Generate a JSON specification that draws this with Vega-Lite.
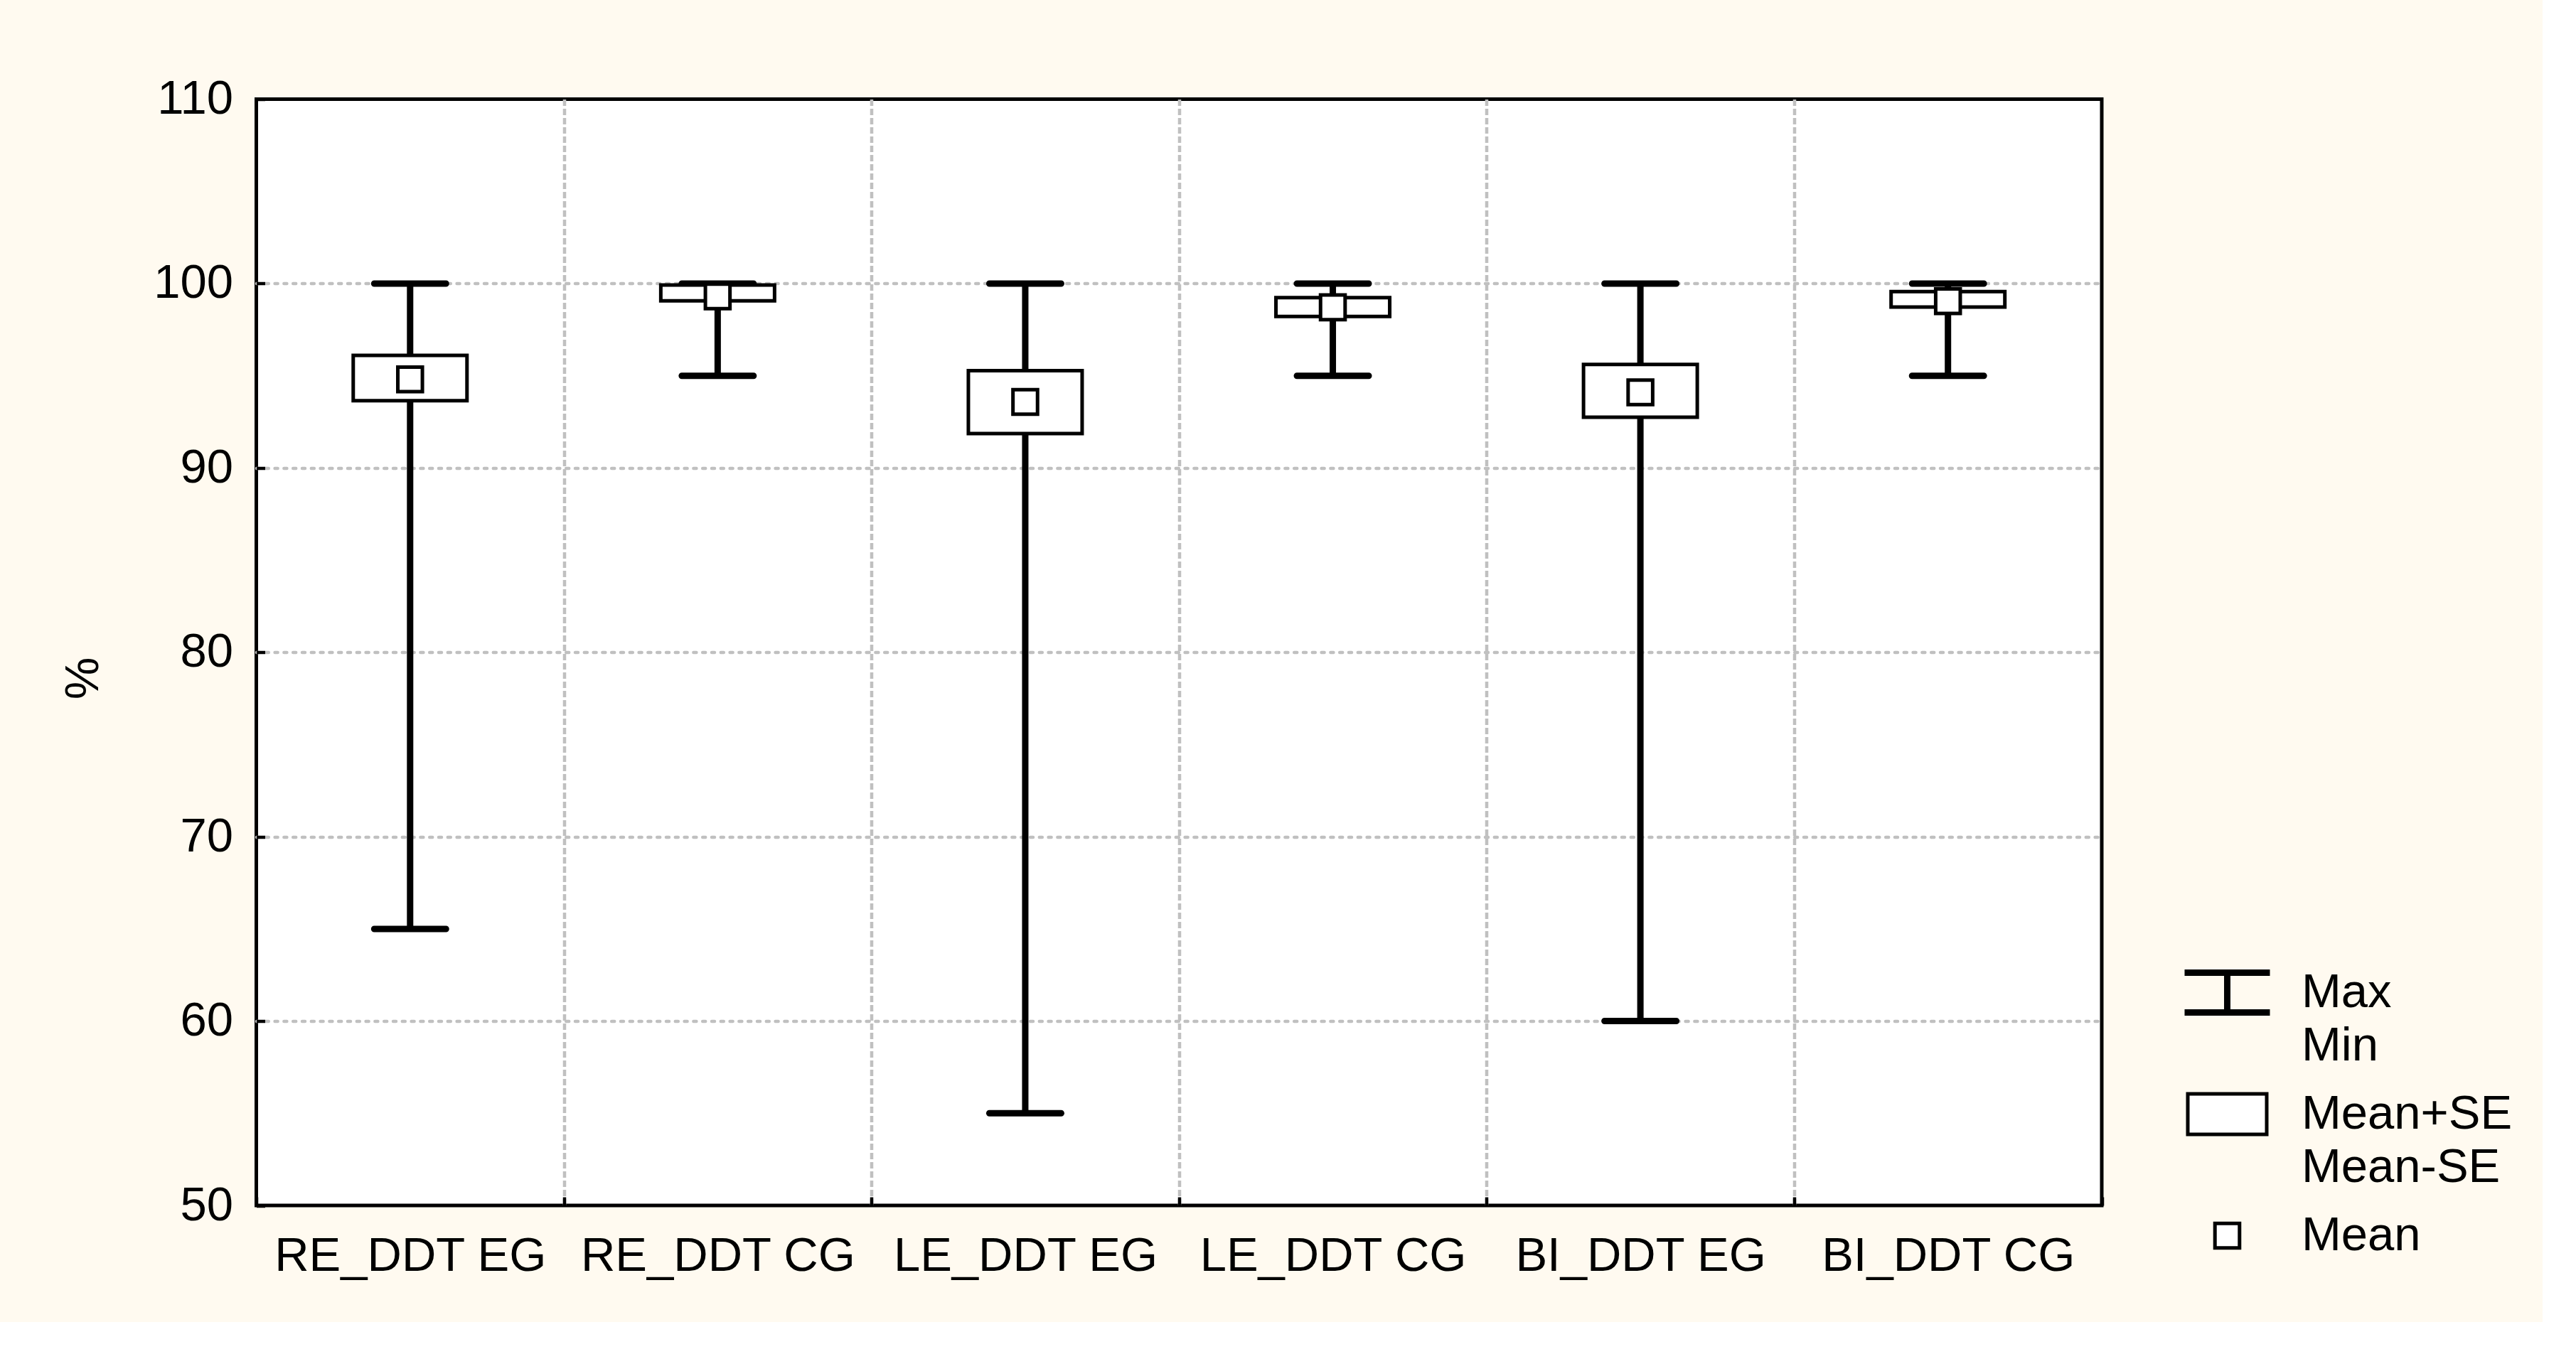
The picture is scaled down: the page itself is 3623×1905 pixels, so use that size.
{
  "$schema": "https://vega.github.io/schema/vega-lite/v6.json",
  "autosize": {"type": "none"},
  "width": 2595.5,
  "height": 1556.5,
  "padding": {"left": 360.5, "top": 139.5, "right": 620, "bottom": 164},
  "background": "#FFFAF0",
  "config": {
    "font": "Liberation Sans",
    "view": {"fill": "white", "stroke": "black", "strokeWidth": 5},
    "style": {"guide-label": {"lineHeight": 75}}
  },
  "data": {
    "values": [
      {"group": "RE_DDT EG", "min": 65, "max": 100, "lo": 93.65, "hi": 96.1, "mean": 94.8},
      {"group": "RE_DDT CG", "min": 95, "max": 100, "lo": 99.06, "hi": 99.92, "mean": 99.3},
      {"group": "LE_DDT EG", "min": 55, "max": 100, "lo": 91.86, "hi": 95.27, "mean": 93.58},
      {"group": "LE_DDT CG", "min": 95, "max": 100, "lo": 98.21, "hi": 99.24, "mean": 98.71},
      {"group": "BI_DDT EG", "min": 60, "max": 100, "lo": 92.75, "hi": 95.61, "mean": 94.1},
      {"group": "BI_DDT CG", "min": 95, "max": 100, "lo": 98.72, "hi": 99.56, "mean": 99.04}
    ]
  },
  "encoding": {
    "x": {
      "field": "group",
      "type": "nominal",
      "sort": null,
      "scale": {"paddingInner": 0, "paddingOuter": 0},
      "axis": {
        "title": null,
        "labelAngle": 0,
        "labelFontSize": 67,
        "labelColor": "black",
        "labelPadding": 50,
        "labelLimit": 0,
        "tickBand": "extent",
        "tickSize": -12,
        "tickWidth": 4.5,
        "tickColor": "black",
        "domain": false,
        "grid": true,
        "gridColor": "#C0C0C0",
        "gridWidth": 4.5,
        "gridDash": [9, 4],
        "gridOpacity": {"condition": {"test": "datum.index == -1 || datum.index == 1", "value": 0}, "value": 1}
      }
    }
  },
  "layer": [
    {
      "mark": {"type": "rule", "color": "black", "strokeWidth": 9},
      "encoding": {
        "y": {
          "field": "min",
          "type": "quantitative",
          "scale": {"domain": [50, 110], "nice": false, "zero": false},
          "axis": {
            "values": [50, 60, 70, 80, 90, 100, 110],
            "title": "%",
            "titleFontSize": 67,
            "titleFontWeight": "normal",
            "titleColor": "black",
            "titleX": -243,
            "titleY": 814.5,
            "titleAngle": -90,
            "titleAlign": "center",
            "titleBaseline": "middle",
            "labelFontSize": 67,
            "labelColor": "black",
            "labelPadding": 45,
            "tickSize": -12,
            "tickWidth": 4.5,
            "tickColor": "black",
            "domain": false,
            "grid": true,
            "gridColor": "#C0C0C0",
            "gridWidth": 4.5,
            "gridDash": [4, 8.8],
            "gridCap": "round",
            "gridOpacity": {"condition": {"test": "datum.value <= 50 || datum.value >= 110", "value": 0}, "value": 1}
          }
        },
        "y2": {"field": "max"}
      }
    },
    {
      "mark": {"type": "tick", "color": "black", "thickness": 9, "size": 110, "cornerRadius": 4.5, "opacity": 1},
      "encoding": {"y": {"field": "max", "type": "quantitative"}}
    },
    {
      "mark": {"type": "tick", "color": "black", "thickness": 9, "size": 110, "cornerRadius": 4.5, "opacity": 1},
      "encoding": {"y": {"field": "min", "type": "quantitative"}}
    },
    {
      "mark": {"type": "bar", "width": 160, "fill": "white", "stroke": "black", "strokeWidth": 5, "opacity": 1},
      "encoding": {
        "y": {"field": "lo", "type": "quantitative"},
        "y2": {"field": "hi"}
      }
    },
    {
      "mark": {"type": "point", "filled": false, "fill": "white", "stroke": "black", "strokeWidth": 5, "size": 14400, "opacity": 1, "fillOpacity": 1, "strokeOpacity": 1},
      "encoding": {
        "y": {"field": "mean", "type": "quantitative"},
        "shape": {
          "datum": "Mean",
          "type": "nominal",
          "scale": {
            "domain": ["Max|Min", "Mean+SE|Mean-SE", "Mean"],
            "range": [
              "M-1,-0.5H1M-1,-0.467H1M-1,-0.433H1M-1,0.433H1M-1,0.467H1M-1,0.5H1M-0.033,-0.467V0.467M0,-0.467V0.467M0.033,-0.467V0.467",
              "M-0.925,-0.475H0.925V0.475H-0.925Z",
              "M-0.288,-0.288H0.288V0.288H-0.288Z"
            ]
          },
          "legend": {
            "orient": "none",
            "legendX": 2709.5,
            "legendY": 1194.5,
            "title": null,
            "symbolSize": 14400,
            "symbolStrokeWidth": 5,
            "symbolOpacity": 1,
            "labelFontSize": 67,
            "labelColor": "black",
            "labelOffset": 42,
            "labelBaseline": "middle",
            "labelLimit": 0,
            "rowPadding": 0,
            "labelExpr": "split(datum.label, '|')"
          }
        }
      }
    }
  ]
}
